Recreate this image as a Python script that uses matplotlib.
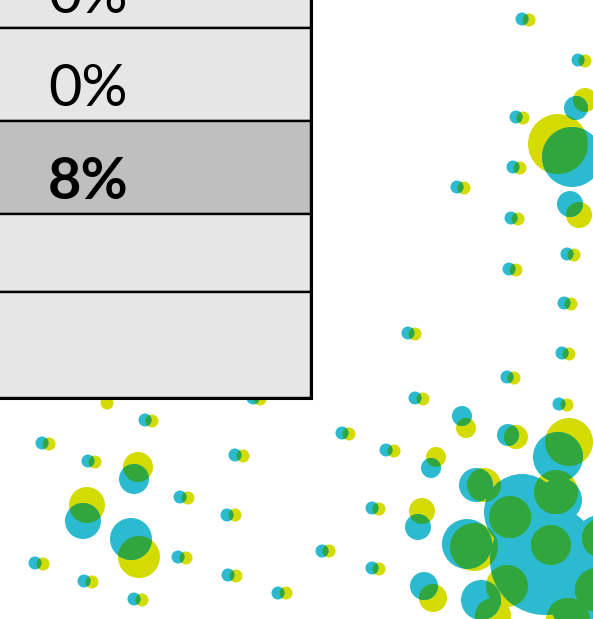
import numpy as np
import matplotlib.pyplot as plt
from matplotlib.patches import Circle

# Table column (cropped on the left)
row_labels = ["0%", "0%", "8%", "", ""]
row_bold = [False, False, True, False, False]

# Bubble pairs: cyan circle and its yellow partner (x, y, radius in px units)
cyan_x = [522, 578, 516, 513, 457, 511, 567, 509, 564, 408, 562, 507, 415, 559, 342, 386,
          372, 322, 372, 145, 42, 88, 35, 84, 134, 253, 235, 180, 227, 178, 228, 278, 103,
          576, 572, 570, 462, 508, 558, 431, 418, 424, 134, 83, 131,
          522, 545, 590, 560, 467, 476, 481, 600]
cyan_y = [19, 60, 117, 167, 187, 218, 254, 269, 303, 333, 353, 377, 398, 404, 433, 450,
          508, 551, 568, 420, 443, 461, 563, 581, 599, 398, 455, 497, 515, 557, 575, 593, 391,
          108, 157, 204, 416, 435, 457, 468, 527, 586, 479, 521, 539,
          512, 560, 600, 500, 544, 485, 600, 540]
cyan_r = [6.5] * 33 + [12, 30, 13, 10, 11, 25, 10, 13, 14, 15, 18, 21,
                       38, 55, 40, 22, 25, 17, 20, 25]

yellow_x = [529, 585, 523, 520, 464, 518, 574, 516, 571, 415, 569, 514, 423, 567, 349, 394,
            379, 329, 379, 152, 49, 95, 43, 92, 142, 260, 243, 188, 235, 186, 236, 286, 107,
            585, 558, 579, 466, 516, 569, 436, 422, 433, 138, 87, 139,
            484, 510, 556, 551, 474, 507, 493, 568, 602, 597]
yellow_y = [20, 61, 118, 168, 188, 219, 255, 270, 304, 334, 354, 378, 399, 405, 434, 451,
            509, 551, 569, 421, 444, 462, 564, 582, 600, 399, 456, 498, 515, 558, 576, 593, 403,
            100, 144, 215, 428, 437, 442, 457, 511, 598, 467, 505, 557,
            485, 517, 492, 545, 547, 586, 616, 620, 538, 590]
yellow_r = [6.5] * 33 + [12, 30, 13, 10, 12, 24, 10, 13, 14, 15, 18, 21,
                         17, 21, 22, 20, 24, 21, 18, 22, 20, 22]

CYAN = '#2cbad0'
YELLOW = '#d4db00'
GREEN = '#31a63c'

fig = plt.figure(figsize=(5.93, 6.19), dpi=100)
ax = fig.add_axes([0, 0, 1, 1])
ax.set_xlim(0, 593)
ax.set_ylim(619, 0)
ax.set_aspect('equal')
ax.axis('off')

for x, y, r in zip(yellow_x, yellow_y, yellow_r):
    ax.add_patch(Circle((x, y), r, facecolor=YELLOW, edgecolor='none', zorder=1))
for x, y, r in zip(cyan_x, cyan_y, cyan_r):
    ax.add_patch(Circle((x, y), r, facecolor=CYAN, edgecolor='none', zorder=2))

# overlap of the two colours shows as green
for yx, yy, yr in zip(yellow_x, yellow_y, yellow_r):
    clip = Circle((yx, yy), yr, transform=ax.transData)
    for cx, cy, cr in zip(cyan_x, cyan_y, cyan_r):
        if np.hypot(cx - yx, cy - yy) < cr + yr:
            g = Circle((cx, cy), cr, facecolor=GREEN, edgecolor='none', zorder=3)
            ax.add_patch(g)
            g.set_clip_path(clip)

# table rows
edges = np.array([-65, 28, 121, 214, 292, 398])
centers = (edges[:-1] + edges[1:]) / 2
heights = np.diff(edges)
colors = ['#bfbfbf' if b else '#e6e6e6' for b in row_bold]
ax.barh(centers, 321, height=heights, left=-10, color=colors,
        edgecolor='black', linewidth=1.7, zorder=5)
ax.plot([311, 311], [-70, 398], color='black', lw=2.2, zorder=6, solid_capstyle='projecting')
ax.plot([-10, 311], [398, 398], color='black', lw=2.2, zorder=6, solid_capstyle='projecting')

for lab, b, bottom in zip(row_labels, row_bold, edges[1:]):
    ax.text(48, bottom - 15, lab, fontsize=41.5, family='Lato',
            fontweight='bold' if b else 'normal', ha='left', va='baseline', zorder=7)

fig.savefig('out.png', dpi=100)
